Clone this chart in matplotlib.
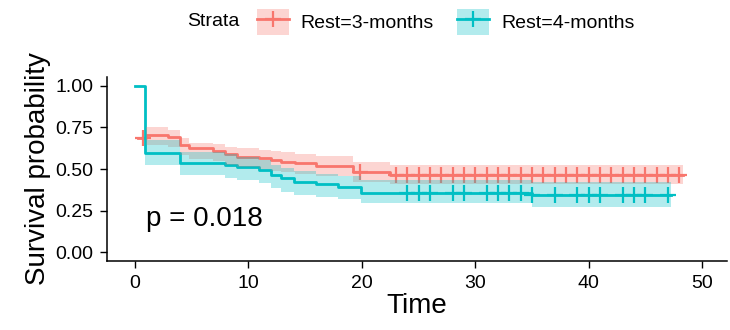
import matplotlib
matplotlib.use("Agg")
import matplotlib.pyplot as plt
from matplotlib.patches import Patch
from matplotlib.lines import Line2D

plt.rcParams['font.family'] = ['Liberation Sans', 'DejaVu Sans']

# Rest=3-months (step starts, survival, confidence band)
red_time = [0.3, 1.0, 2.9, 4.0, 4.8, 6.9, 7.9, 9.0, 10.9, 12.0, 12.9, 14.1, 16.0, 19.2, 22.5]
red_surv = [0.688, 0.704, 0.694, 0.644, 0.624, 0.608, 0.588, 0.574, 0.564, 0.554, 0.544, 0.534, 0.52, 0.484, 0.464]
red_upper = [0.688, 0.754, 0.734, 0.684, 0.658, 0.648, 0.63, 0.624, 0.612, 0.606, 0.6, 0.59, 0.578, 0.54, 0.522]
red_lower = [0.688, 0.644, 0.634, 0.584, 0.562, 0.546, 0.526, 0.512, 0.5, 0.49, 0.48, 0.47, 0.456, 0.42, 0.41]
red_end = 48.3
red_censor = [0.67, 19.8, 23, 24, 25, 26, 27, 28, 29, 30, 31, 32, 33, 34, 35, 36, 37,
              38, 39, 40, 41, 42, 43, 44, 45, 46, 47, 48]

# Rest=4-months
teal_time = [0, 0.9, 4.0, 7.9, 9.0, 10.9, 12.0, 12.9, 14.0, 16.0, 17.9, 19.9, 35.0]
teal_surv = [1.0, 0.594, 0.538, 0.524, 0.514, 0.494, 0.464, 0.444, 0.424, 0.408, 0.394, 0.354, 0.345]
teal_upper = [1.0, 0.674, 0.604, 0.588, 0.574, 0.554, 0.524, 0.506, 0.488, 0.472, 0.458, 0.434, 0.42]
teal_lower = [1.0, 0.524, 0.464, 0.448, 0.434, 0.414, 0.384, 0.364, 0.346, 0.332, 0.318, 0.294, 0.275]
teal_end = 47.3
teal_censor = [24, 25, 26, 28, 29, 31, 32, 33, 34, 35, 37, 39, 40, 41, 43, 44, 45, 47]

strata = ["Rest=3-months", "Rest=4-months"]
colors = ["#F8766D", "#00BFC4"]
p_text = "p = 0.018"


def surv_at(times, surv, t):
    val = surv[0]
    for ti, si in zip(times, surv):
        if ti <= t:
            val = si
    return val


fig = plt.figure(figsize=(7.3, 3.3), dpi=100)
ax = fig.add_axes([107 / 730, 1 - 260.7 / 330, 620 / 730, 183.3 / 330])

groups = [
    (red_time, red_surv, red_lower, red_upper, red_end, red_censor, colors[0]),
    (teal_time, teal_surv, teal_lower, teal_upper, teal_end, teal_censor, colors[1]),
]
for times, surv, lo, hi, end, cens, c in groups:
    x = times + [end]
    ax.step(x, surv + [surv[-1]], where='post', color=c, lw=2.0, zorder=2)
    ax.fill_between(x, lo + [lo[-1]], hi + [hi[-1]], step='post',
                    color=c, alpha=0.3, lw=0, zorder=3)
    cy = [surv_at(times, surv, t) for t in cens]
    ax.plot(cens, cy, ls='none', marker='+', ms=11, mew=1.6, color=c, zorder=2)

ax.text(1.0, 0.2, p_text, fontsize=20, va='center', ha='left')

ax.set_xlim(-2.47, 52.2)
ax.set_ylim(-0.05, 1.05)
ax.set_xticks([0, 10, 20, 30, 40, 50])
ax.set_yticks([0, 0.25, 0.5, 0.75, 1.0])
ax.set_yticklabels(["0.00", "0.25", "0.50", "0.75", "1.00"])
ax.tick_params(labelsize=14, length=5, width=1, color='black', labelcolor='black', pad=5)
for side in ['top', 'right']:
    ax.spines[side].set_visible(False)
for side in ['left', 'bottom']:
    ax.spines[side].set_linewidth(1.1)
ax.set_xlabel("Time", fontsize=20, labelpad=1)
ax.set_ylabel("Survival probability", fontsize=20, labelpad=3)

fig.text(187 / 730, 1 - 22 / 330, "Strata", fontsize=14, va='center', ha='left')
handles = []
for c in colors:
    handles.append((Patch(facecolor=c, alpha=0.3, lw=0),
                    Line2D([], [], color=c, lw=2, marker='+', ms=11, mew=1.6)))
fig.legend(handles, strata, loc='center left', bbox_to_anchor=(257 / 730, 1 - 22 / 330),
           ncol=2, frameon=False, fontsize=14, handlelength=1.65, handleheight=1.65,
           handletextpad=0.6, columnspacing=1.2, borderpad=0, borderaxespad=0)

fig.savefig("out.png", dpi=100)
